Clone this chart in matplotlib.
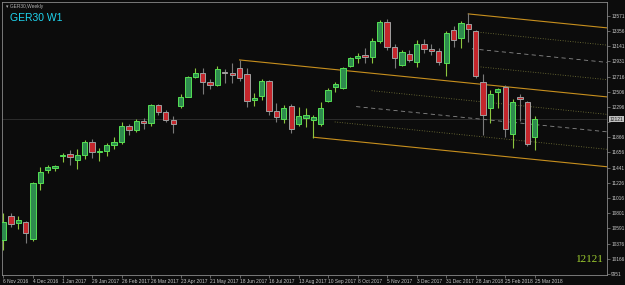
import numpy as np
import matplotlib
matplotlib.use('Agg')
from matplotlib import pyplot as plt

# weekly GER30 bars, 6 Nov 2016 .. 25 Mar 2018
opens = [10428, 10764, 10666, 10680, 10442, 11226, 11409, 11437, 11600, 11633,
         11549, 11620, 11800, 11665, 11668, 11760, 11804, 12027, 11963, 12095,
         12064, 12313, 12225, 12109, 12300, 12438, 12716, 12770, 12638, 12602,
         12787, 12768, 12838, 12755, 12390, 12446, 12656, 12236, 12124, 12306,
         12053, 12138, 12110, 12053, 12376, 12572, 12558, 12866, 12978, 13020,
         12992, 13217, 13483, 13133, 12880, 13035, 12922, 13175, 13103, 13072,
         12908, 13371, 13259, 13455, 13357, 12642, 12278, 12502, 12572, 11913,
         12432, 12362, 11871]
highs = [10806, 10806, 10764, 10694, 11240, 11451, 11480, 11480, 11647, 11690,
         11700, 11830, 11840, 11720, 11790, 11870, 12080, 12060, 12120, 12140,
         12330, 12330, 12250, 12160, 12470, 12730, 12840, 12840, 12680, 12870,
         12824, 12908, 12950, 12838, 12488, 12684, 12670, 12348, 12320, 12334,
         12292, 12278, 12180, 12362, 12558, 12642, 12852, 12992, 13048, 13119,
         13259, 13511, 13525, 13175, 13091, 13091, 13231, 13250, 13180, 13120,
         13357, 13427, 13490, 13609, 13371, 12754, 12530, 12558, 12600, 12404,
         12474, 12376, 12166]
lows = [10287, 10610, 10582, 10386, 10420, 11128, 11367, 11395, 11520, 11479,
        11423, 11560, 11580, 11540, 11600, 11700, 11780, 11900, 11940, 11990,
        12020, 12180, 12080, 11930, 12280, 12430, 12700, 12480, 12540, 12590,
        12628, 12628, 12656, 12292, 12306, 12390, 12180, 12081, 12067, 11927,
        12025, 12011, 11857, 12025, 12362, 12502, 12544, 12852, 12908, 12908,
        12908, 13189, 13091, 12838, 12866, 12922, 12852, 13050, 13020, 12880,
        12726, 13133, 13119, 13203, 12700, 11899, 12067, 12278, 11871, 11717,
        12095, 11745, 11689]
closes = [10680, 10652, 10708, 10526, 11226, 11381, 11451, 11465, 11608, 11591,
          11619, 11800, 11660, 11668, 11760, 11804, 12027, 11963, 12095, 12064,
          12313, 12225, 12109, 12048, 12438, 12716, 12770, 12638, 12602, 12823,
          12768, 12740, 12698, 12376, 12418, 12656, 12236, 12152, 12278, 11983,
          12166, 12180, 12152, 12278, 12530, 12614, 12838, 12978, 13006, 12992,
          13217, 13483, 13133, 12978, 13063, 12950, 13175, 13103, 13072, 12918,
          13329, 13231, 13469, 13385, 12726, 12180, 12474, 12544, 11983, 12362,
          12404, 11773, 12123]

date_labels = ['6 Nov 2016', '4 Dec 2016', '1 Jan 2017', '29 Jan 2017', '26 Feb 2017',
               '26 Mar 2017', '23 Apr 2017', '21 May 2017', '18 Jun 2017', '16 Jul 2017',
               '13 Aug 2017', '10 Sep 2017', '8 Oct 2017', '5 Nov 2017', '3 Dec 2017',
               '31 Dec 2017', '28 Jan 2018', '25 Feb 2018', '25 Mar 2018']
price_ticks = [9951, 10166, 10376, 10591, 10801, 11016, 11226, 11441, 11656, 11866,
               12081, 12296, 12506, 12716, 12931, 13141, 13356, 13571]
bid = 12121

# equidistant channel: anchor bar, anchor price
ch_slope = -10.4
ch_upper = (63, 13596)
ch_mid = (32, 12951)
ch_lower = (42, 11868)

bg = '#0c0c0c'
fig = plt.figure(figsize=(6.25, 2.85), dpi=100, facecolor=bg)
ax = fig.add_axes([0.0032, 0.035, 0.9680, 0.958], facecolor=bg)

n = len(opens)
x = np.arange(n)
o = np.array(opens); h = np.array(highs); l = np.array(lows); c = np.array(closes)
up = c >= o

x_end = 81.8


def line_at(anchor, xs):
    return anchor[1] + ch_slope * (np.asarray(xs) - anchor[0])


# bid line
ax.axhline(bid, color='#2c2c2c', lw=0.7, zorder=1)

# channel
for anchor in (ch_upper, ch_mid, ch_lower):
    xs = np.array([anchor[0], x_end])
    ax.plot(xs, line_at(anchor, xs), color='#c8901e', lw=0.8, zorder=2)

w_up = line_at(ch_upper, x_end) - line_at(ch_mid, x_end)
w_lo = line_at(ch_mid, x_end) - line_at(ch_lower, x_end)
for k, start in [(1, 64), (2, 63.5), (3, 64)]:
    xs = np.array([start, x_end])
    style = (0, (5, 4)) if k == 2 else (0, (1, 2))
    col = '#8a8a8a' if k == 2 else '#7d7d3c'
    ax.plot(xs, line_at(ch_mid, xs) + k * w_up / 4, color=col, lw=0.6,
            ls=style, zorder=2)
for k, start in [(1, 44.9), (2, 47.8), (3, 49.9)]:
    xs = np.array([start, x_end])
    style = (0, (5, 4)) if k == 2 else (0, (1, 2))
    col = '#8a8a8a' if k == 2 else '#7d7d3c'
    ax.plot(xs, line_at(ch_lower, xs) + k * w_lo / 4, color=col, lw=0.6,
            ls=style, zorder=2)

# candles
ax.vlines(x[up], l[up], h[up], color='#8cc63f', lw=0.8, zorder=3)
ax.vlines(x[~up], l[~up], h[~up], color='#7a7a7a', lw=0.8, zorder=3)
body_lo = np.minimum(o, c)
body_h = np.maximum(np.abs(c - o), 12)
ax.bar(x[up], body_h[up], bottom=body_lo[up], width=0.72, color='#2e8b4e',
       edgecolor='#55e055', lw=0.7, zorder=4)
ax.bar(x[~up], body_h[~up], bottom=body_lo[~up], width=0.72, color='#c4262c',
       edgecolor='#a0a0a0', lw=0.7, zorder=4)

ax.set_xlim(-0.2, x_end)
ax.set_ylim(9937, 13763)

for s in ax.spines.values():
    s.set_color('#8a8a8a')
    s.set_linewidth(0.6)

ax.set_xticks(np.arange(0, n, 4))
ax.set_xticklabels(date_labels, fontsize=3.5, color='#c8c8c8',
                   family='Liberation Sans', ha='left')
ax.yaxis.tick_right()
ax.set_yticks(price_ticks)
# the bid marker sits over the 12081 label, as on the terminal
ax.set_yticklabels(['' if p == 12081 else str(p) for p in price_ticks],
                   fontsize=3.4, color='#c8c8c8', family='Liberation Sans')
ax.tick_params(axis='both', colors='#8a8a8a', length=2, width=0.5, pad=1,
               labelcolor='#c8c8c8')

# bid price marker on axis
ax.annotate(str(bid), xy=(1.0, bid), xycoords=('axes fraction', 'data'),
            xytext=(2, 0), textcoords='offset points', fontsize=3.6,
            family='Liberation Sans', color='#202020', va='center', ha='left',
            bbox=dict(boxstyle='square,pad=0.15', fc='#c0c0c0', ec='none'),
            zorder=10, annotation_clip=False)

fig.text(0.010, 0.985, '\u25be GER30,Weekly', fontsize=3.5, color='#b0b0b0',
         family=['Liberation Sans', 'DejaVu Sans'], va='top')
fig.text(0.016, 0.955, 'GER30 W1', fontsize=7.5, color='#1ed6f0',
         family='Liberation Sans', va='top')
fig.text(0.966, 0.088, str(bid), fontsize=8, color='#a0d030',
         family='Liberation Serif', ha='right', va='center')

fig.savefig('out.png', dpi=100, facecolor=bg)
